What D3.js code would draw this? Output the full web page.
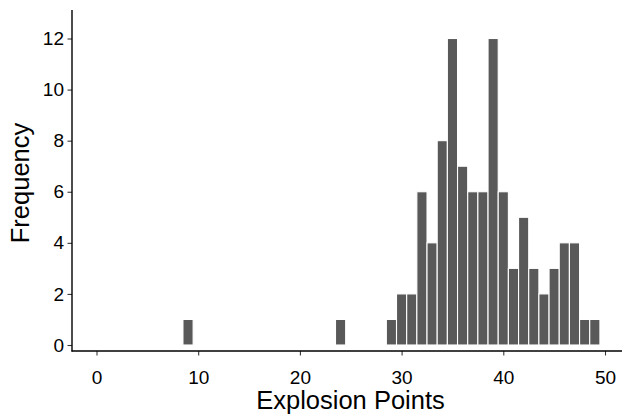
<!DOCTYPE html>
<html><head><meta charset="utf-8">
<script src="https://cdn.jsdelivr.net/npm/d3@7"></script>
<style>body{margin:0;background:#fff}svg{display:block}</style>
</head><body>
<svg id="c" width="622" height="414"></svg>
<script>
const points = [9, 24, 29, 30, 31, 32, 33, 34, 35, 36, 37, 38, 39, 40, 41, 42, 43, 44, 45, 46, 47, 48, 49];
const counts = [1, 1, 1, 2, 2, 6, 4, 8, 12, 7, 6, 6, 12, 6, 3, 5, 3, 2, 3, 4, 4, 1, 1];
const xTicks = [0, 10, 20, 30, 40, 50];
const yTicks = [0, 2, 4, 6, 8, 10, 12];

const svg = d3.select("#c");
const x = d3.scaleLinear().domain([0, 50]).range([96.5, 605]);
const y = d3.scaleLinear().domain([0, 12]).range([345, 38.5]);
const axisX0 = 72, axisY0 = 351, plotTop = 10, plotRight = 622;

svg.append("g").selectAll("rect").data(points).join("rect")
  .attr("x", d => x(d - 0.5))
  .attr("width", d => x(d + 0.5) - x(d - 0.5))
  .attr("y", (d, i) => y(counts[i]))
  .attr("height", (d, i) => y(0) - y(counts[i]))
  .attr("fill", "#595959")
  .attr("stroke", "#ffffff")
  .attr("stroke-width", 1.1);

const font = "'Liberation Sans', Arial, sans-serif";

// y axis
const yAxis = d3.axisLeft(y).tickValues(yTicks).tickSize(4.5).tickPadding(3.5);
const gy = svg.append("g").attr("transform", `translate(${axisX0},0)`).call(yAxis);
gy.select(".domain").remove();
gy.selectAll("line").attr("stroke", "#333").attr("stroke-width", 1.07);
gy.selectAll("text").style("font-family", font).style("font-size", "19px").attr("fill", "#000");

// x axis
const xAxis = d3.axisBottom(x).tickValues(xTicks).tickSize(4.5).tickPadding(3);
const gx = svg.append("g").attr("transform", `translate(0,${axisY0})`).call(xAxis);
gx.select(".domain").remove();
gx.selectAll("line").attr("stroke", "#333").attr("stroke-width", 1.07);
gx.selectAll("text").attr("dy", null).attr("y", 33).style("font-family", font).style("font-size", "19px").attr("fill", "#000");

// axis lines
svg.append("line").attr("x1", axisX0).attr("x2", axisX0).attr("y1", plotTop).attr("y2", axisY0 + 0.5)
  .attr("stroke", "#000").attr("stroke-width", 1.4);
svg.append("line").attr("x1", axisX0 - 0.5).attr("x2", plotRight).attr("y1", axisY0).attr("y2", axisY0)
  .attr("stroke", "#000").attr("stroke-width", 1.4);

// titles
svg.append("text").attr("x", 350.5).attr("y", 409)
  .attr("text-anchor", "middle").style("font-family", font).style("font-size", "25.5px")
  .attr("fill", "#000").text("Explosion Points");
svg.append("text").attr("transform", `translate(28.5,183) rotate(-90)`)
  .attr("text-anchor", "middle").style("font-family", font).style("font-size", "25.5px")
  .attr("fill", "#000").text("Frequency");
</script>
</body></html>
